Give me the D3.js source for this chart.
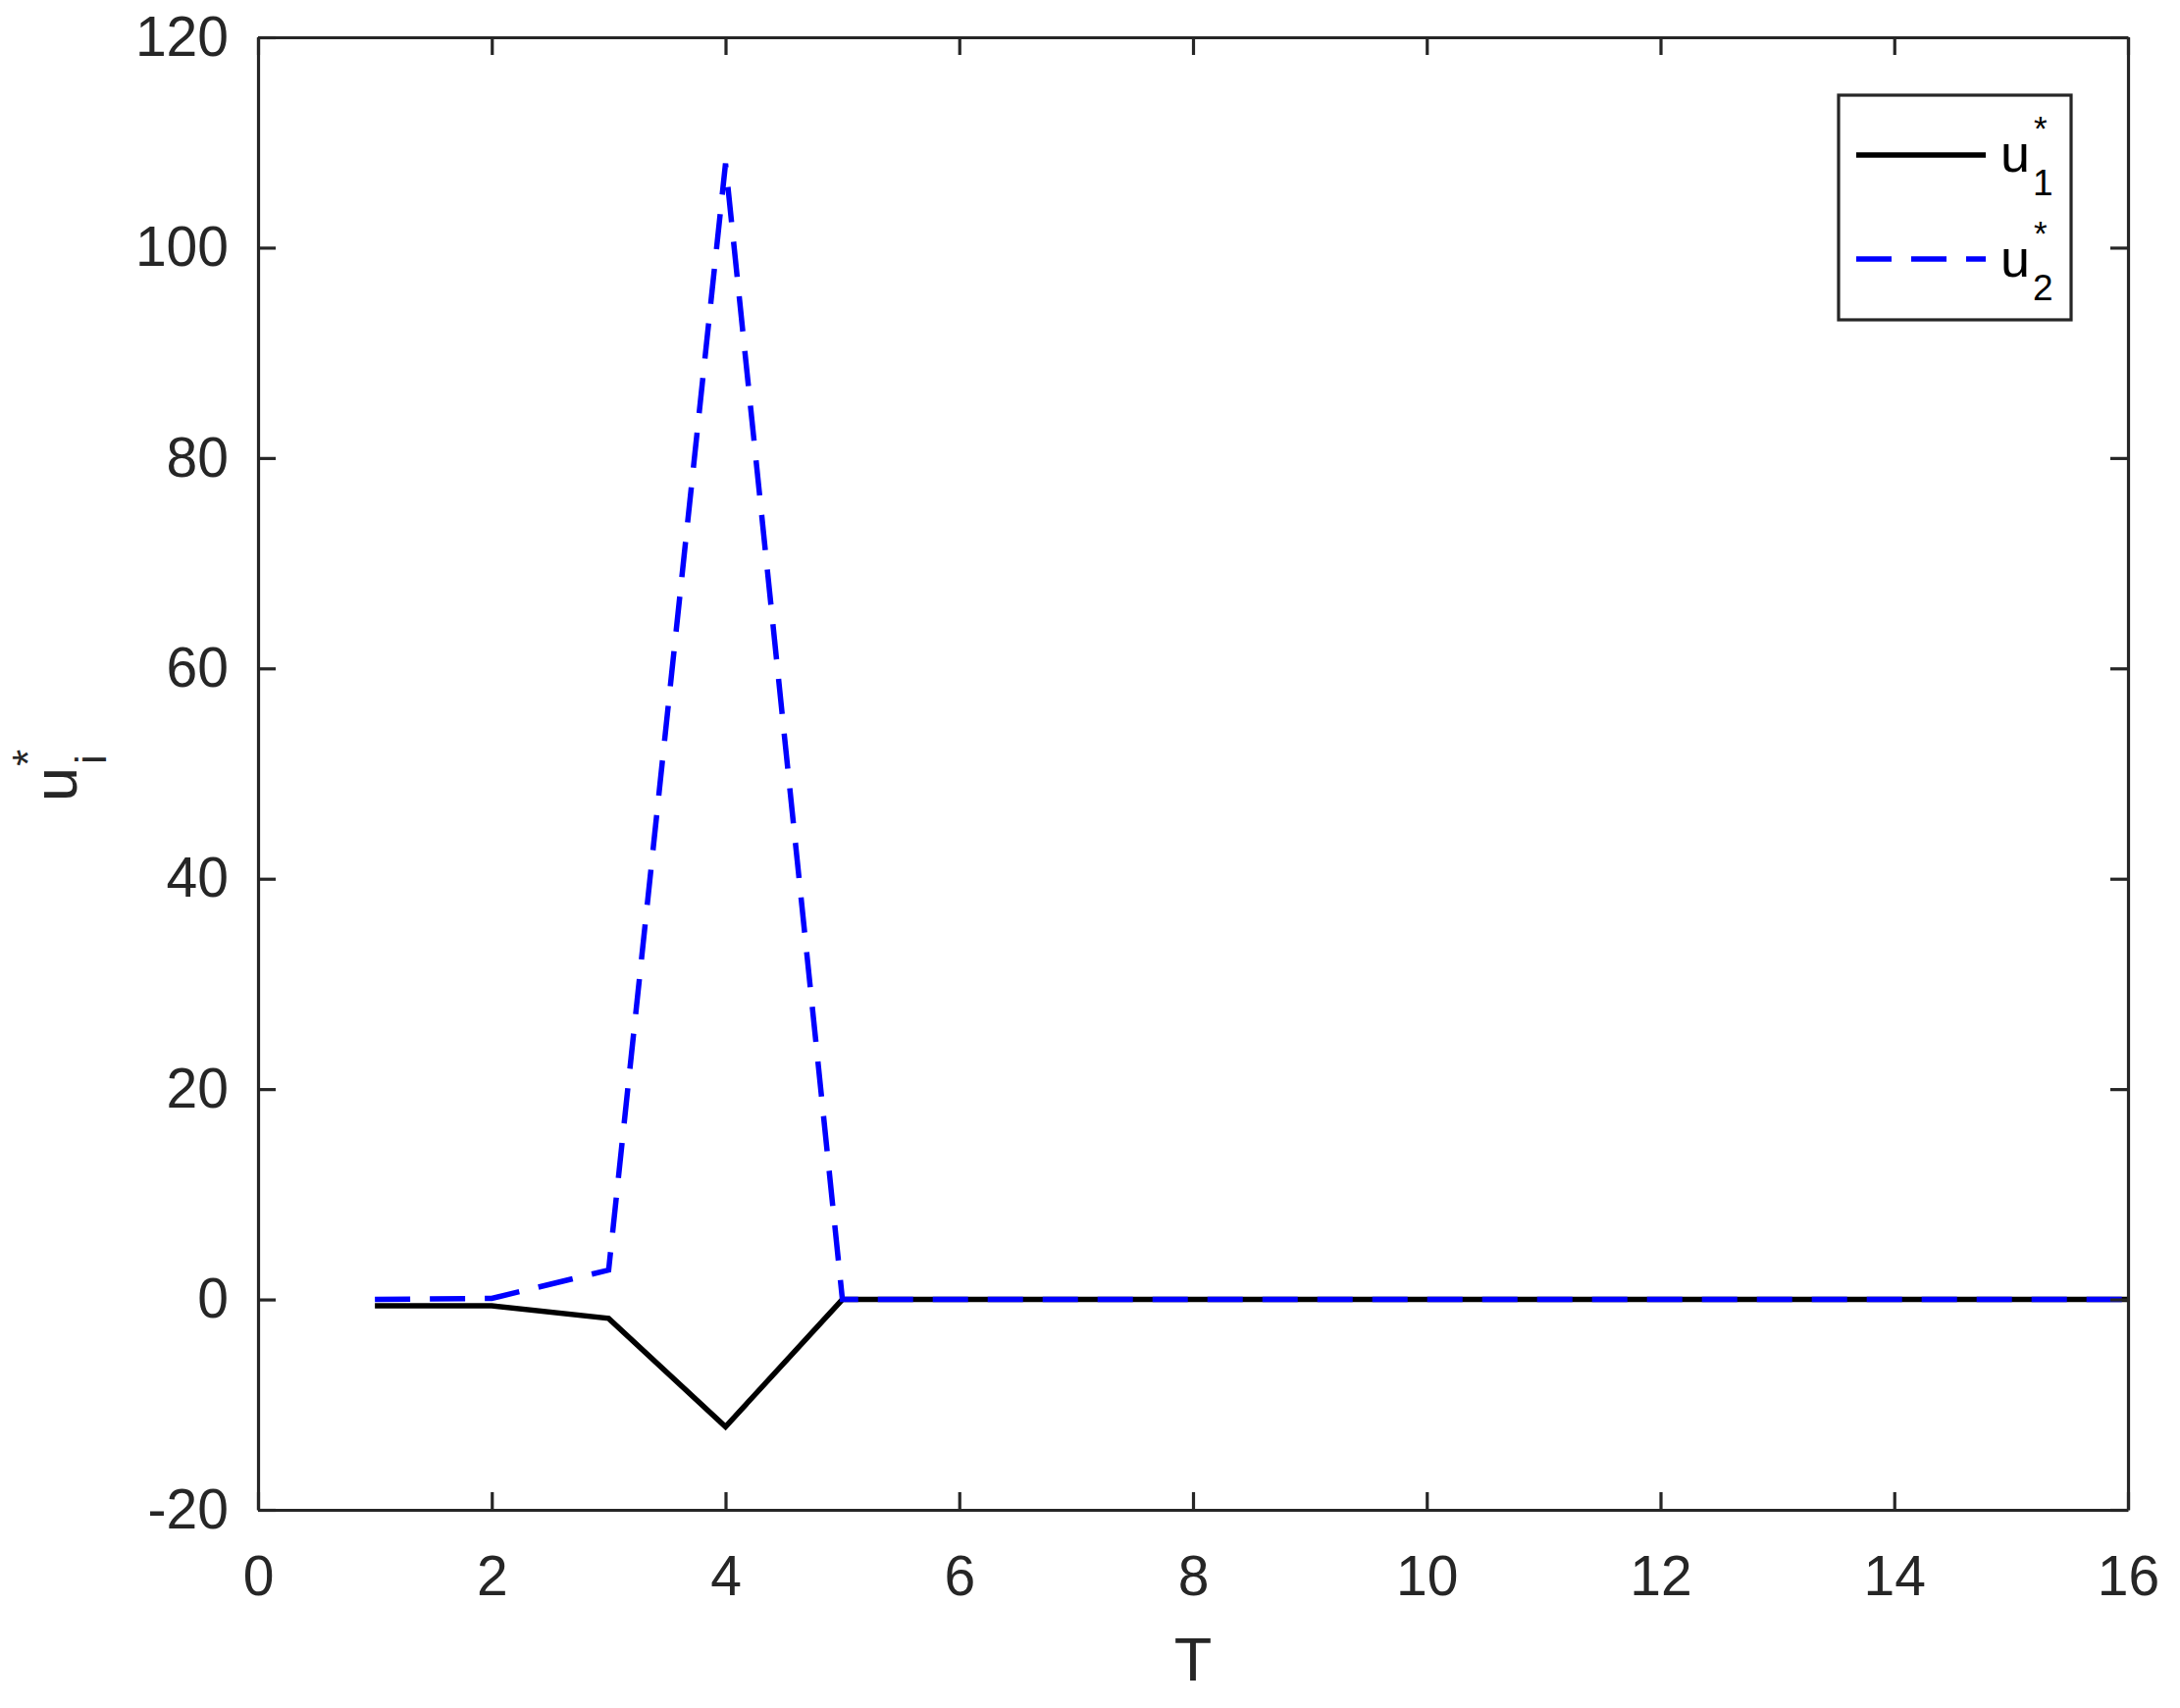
<!DOCTYPE html>
<html>
<head>
<meta charset="utf-8">
<script src="https://cdn.jsdelivr.net/npm/d3@7"></script>
<style>
  body { margin: 0; background: #fff; }
  text { font-family: "Liberation Sans", Arial, Helvetica, sans-serif; }
</style>
</head>
<body>
<div class="plot"></div>
<script>
// data
const T = [1, 2, 3, 4, 5, 6, 7, 8, 9, 10, 11, 12, 13, 14, 15, 16];
const u1 = [-0.6, -0.6, -1.8, -12.1, 0, 0, 0, 0, 0, 0, 0, 0, 0, 0, 0, 0];
const u2 = [0, 0.1, 2.8, 108, 0, 0, 0, 0, 0, 0, 0, 0, 0, 0, 0, 0];
const xTicks = [0, 2, 4, 6, 8, 10, 12, 14, 16];
const yTicks = [-20, 0, 20, 40, 60, 80, 100, 120];
const seriesNames = ['1', '2'];

const width = 2222;
const height = 1741;
const plotLeft = 263, plotRight = 2169, plotTop = 38, plotBottom = 1539;
const axisColor = '#262626';

const svg = d3
  .select('.plot')
  .append('svg')
  .attr('width', width)
  .attr('height', height);

const x = d3.scaleLinear().domain([0, 16]).range([plotLeft, plotRight]);
const y = d3.scaleLinear().domain([-20, 120]).range([plotBottom, plotTop]);

// lines
const line = d3.line().x((d, i) => x(T[i])).y(d => y(d));

svg.append('path')
  .datum(u1)
  .attr('d', line)
  .attr('fill', 'none')
  .attr('stroke', '#000')
  .attr('stroke-width', 5.5);

svg.append('path')
  .datum(u2)
  .attr('d', line)
  .attr('fill', 'none')
  .attr('stroke', '#0000ff')
  .attr('stroke-width', 5.5)
  .attr('stroke-dasharray', '36,20');

// axes, ticks pointing inwards on all four sides
function styleAxis(g) {
  g.select('.domain').attr('stroke', axisColor).attr('stroke-width', 3.2);
  g.selectAll('.tick line').attr('stroke', axisColor).attr('stroke-width', 3.2);
  g.selectAll('.tick text')
    .attr('fill', axisColor)
    .attr('font-size', 57)
    .attr('font-family', '"Liberation Sans", Arial, sans-serif');
}

const plainFormat = d => String(d);

svg.append('g')
  .attr('transform', `translate(0,${plotBottom})`)
  .call(d3.axisBottom(x).tickValues(xTicks).tickFormat(plainFormat).tickSizeInner(-18).tickSizeOuter(0).tickPadding(47))
  .call(styleAxis);

svg.append('g')
  .attr('transform', `translate(${plotLeft},0)`)
  .call(d3.axisLeft(y).tickValues(yTicks).tickFormat(plainFormat).tickSizeInner(-18).tickSizeOuter(0).tickPadding(30))
  .call(styleAxis);

svg.append('g')
  .attr('transform', `translate(0,${plotTop})`)
  .call(d3.axisTop(x).tickValues(xTicks).tickSizeInner(-18).tickSizeOuter(0).tickFormat(''))
  .call(styleAxis);

svg.append('g')
  .attr('transform', `translate(${plotRight},0)`)
  .call(d3.axisRight(y).tickValues(yTicks).tickSizeInner(-18).tickSizeOuter(0).tickFormat(''))
  .call(styleAxis);

// x label
svg.append('text')
  .attr('x', (plotLeft + plotRight) / 2)
  .attr('y', 1713)
  .attr('text-anchor', 'middle')
  .attr('font-size', 63)
  .attr('fill', axisColor)
  .text('T');

// y label u_i^* rotated
const yl = svg.append('g').attr('transform', 'translate(78,817) rotate(-90)');
const ylMain = yl.append('text')
  .attr('x', 0).attr('y', 0)
  .attr('font-size', 63)
  .attr('fill', axisColor)
  .text('u');
const ylw = ylMain.node().getComputedTextLength();
yl.append('text')
  .attr('x', ylw + 3).attr('y', 30)
  .attr('font-size', 44)
  .attr('fill', axisColor)
  .text('i');
yl.append('text')
  .attr('x', ylw + 1).attr('y', -34)
  .attr('font-size', 44)
  .attr('fill', axisColor)
  .text('*');

// legend
const legend = svg.append('g');
legend.append('rect')
  .attr('x', 1874).attr('y', 97)
  .attr('width', 237).attr('height', 229)
  .attr('fill', '#fff')
  .attr('stroke', axisColor)
  .attr('stroke-width', 3.2);

const legendRows = [
  { name: seriesNames[0], color: '#000', dash: null, ly: 158, base: 175 },
  { name: seriesNames[1], color: '#0000ff', dash: '36,20', ly: 264, base: 282 }
];

legendRows.forEach(r => {
  legend.append('line')
    .attr('x1', 1892).attr('x2', 2024)
    .attr('y1', r.ly).attr('y2', r.ly)
    .attr('stroke', r.color)
    .attr('stroke-width', 5.5)
    .attr('stroke-dasharray', r.dash);
  const t = legend.append('text')
    .attr('x', 2039).attr('y', r.base)
    .attr('font-size', 54)
    .attr('fill', '#000')
    .text('u');
  const w = t.node().getComputedTextLength();
  legend.append('text')
    .attr('x', 2039 + w + 3).attr('y', r.base + 24)
    .attr('font-size', 37)
    .attr('fill', '#000')
    .text(r.name);
  legend.append('text')
    .attr('x', 2039 + w + 4).attr('y', r.base - 32)
    .attr('font-size', 35)
    .attr('fill', '#000')
    .text('*');
});
</script>
</body>
</html>
